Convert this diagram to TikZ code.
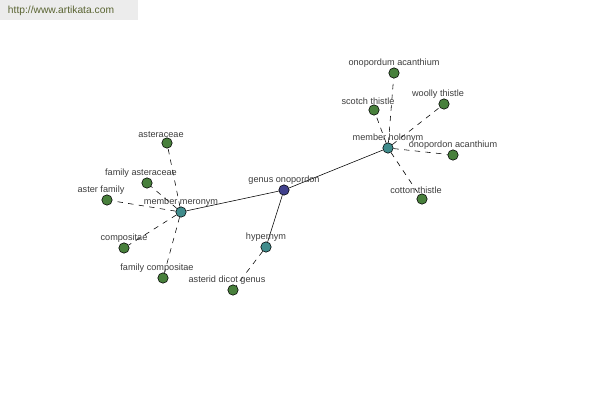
\documentclass[tikz,border=0pt]{standalone}
\usepackage{fontspec}
\setmainfont{Liberation Sans}
\usepackage{tikz}
\usetikzlibrary{positioning, backgrounds}
\definecolor{cLeaf}{RGB}{72,128,60}
\definecolor{cHub}{RGB}{64,140,140}
\definecolor{cRoot}{RGB}{64,64,140}
\definecolor{cText}{RGB}{60,60,60}
\definecolor{cBox}{RGB}{236,236,236}
\definecolor{cUrl}{RGB}{90,100,50}
\tikzset{
	word/.style  ={circle, draw=black, thin, minimum size=0.26cm, inner sep=0pt},
	leaf/.style  ={word, fill=cLeaf},
	hub/.style   ={word, fill=cHub},
	root/.style  ={word, fill=cRoot},
	lbl/.style   ={font=\fontsize{6.5}{7}\selectfont, text=cText, inner sep=1pt, label distance=-1pt},
	llbl/.style  ={lbl, xshift=-0.15cm},
	tie/.style   ={thin, black},
	rel/.style   ={thin, black, dash pattern=on 3.8pt off 3.8pt},
}
\begin{document}
\begin{tikzpicture}[x=0.025cm, y=-0.025cm]
			\useasboundingbox (0,0) rectangle (600,400);
			\fill[cBox] (0,0) rectangle (138,20);
			\node[font=\fontsize{7.3}{8}\selectfont, text=cUrl] (url) at (61,11) {http://www.artikata.com};
			% hubs
			\node[root, label={[lbl]above:genus onopordon}] (genus) at (284,190) {};
			\node[hub, label={[lbl]above:member meronym}] (mero) at (181,212) {};
			\node[hub, label={[lbl]above:member holonym}] (holo) at (388,148) {};
			\node[hub, label={[lbl]above:hypernym}] (hyper) at (266,247) {};
			% left leaves
			\node[leaf, label={[llbl]above:asteraceae}] (ast) at (167,143) {};
			\node[leaf, label={[llbl]above:family asteraceae}] (famast) at (147,183) {};
			\node[leaf, label={[llbl]above:aster family}] (astfam) at (107,200) {};
			\node[leaf, label={[lbl]above:compositae}] (comp) at (124,248) {};
			\node[leaf, label={[llbl]above:family compositae}] (famcomp) at (163,278) {};
			\node[leaf, label={[llbl]above:asterid dicot genus}] (dicot) at (233,290) {};
			% right leaves
			\node[leaf, label={[lbl]above:onopordum acanthium}] (onum) at (394,73) {};
			\node[leaf, label={[llbl]above:scotch thistle}] (scotch) at (374,110) {};
			\node[leaf, label={[llbl]above:woolly thistle}] (woolly) at (444,104) {};
			\node[leaf, label={[lbl]above:onopordon acanthium}] (onon) at (453,155) {};
			\node[leaf, label={[llbl]above:cotton thistle}] (cotton) at (422,199) {};
			\begin{scope}[on background layer]
			\draw[tie] (mero) -- (genus);
			\draw[tie] (genus) -- (holo);
			\draw[tie] (genus) -- (hyper);
			\draw[rel] (hyper) -- (dicot);
			\foreach \n in {ast, famast, astfam, comp, famcomp}
				\draw[rel] (mero) -- (\n);
			\foreach \n in {onum, scotch, woolly, onon, cotton}
				\draw[rel] (holo) -- (\n);
			\end{scope}
		\end{tikzpicture}
\end{document}
